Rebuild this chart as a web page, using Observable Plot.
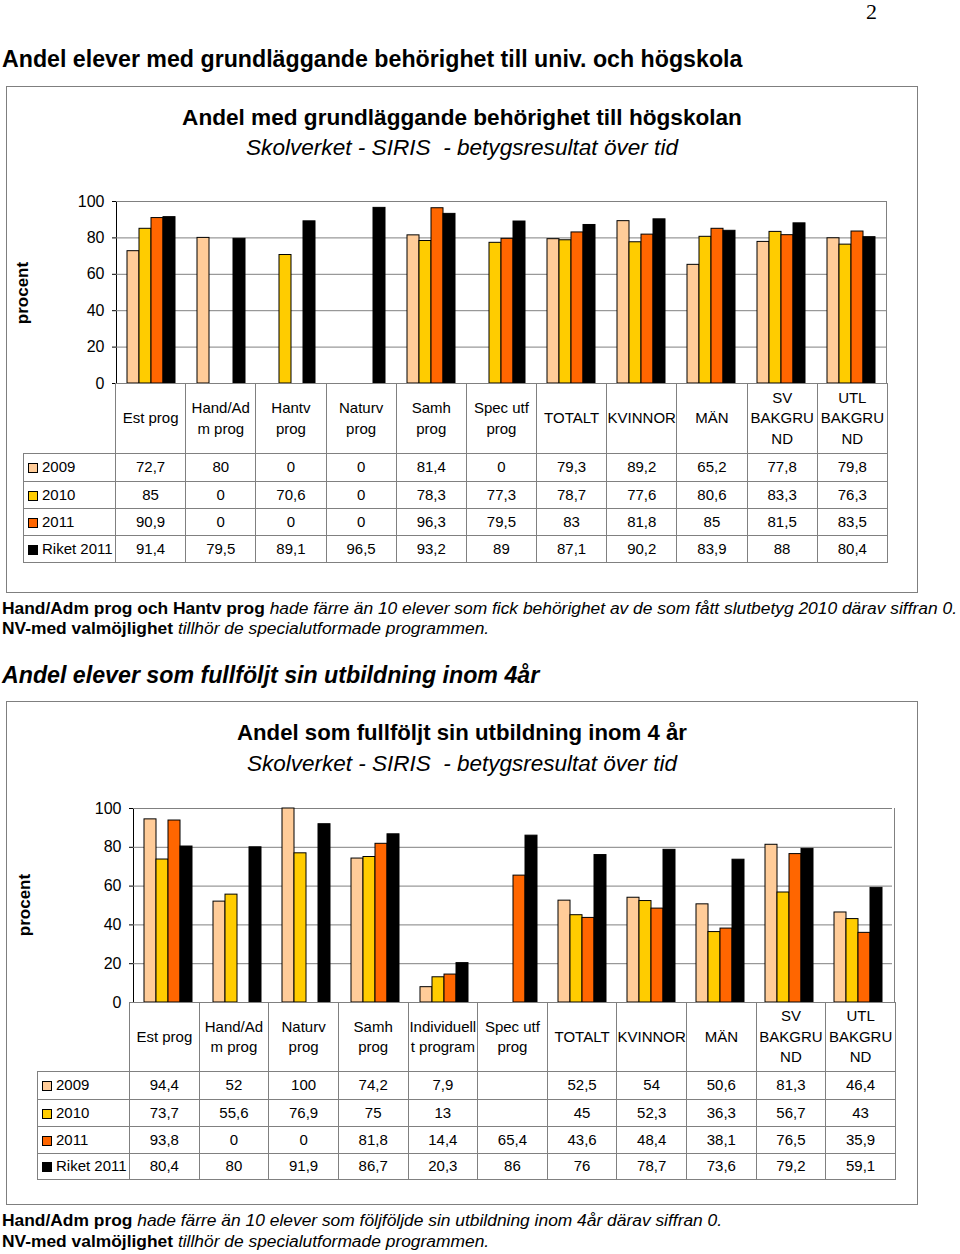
<!DOCTYPE html>
<html><head><meta charset="utf-8">
<script src="https://cdn.jsdelivr.net/npm/d3@7"></script>
<script src="https://cdn.jsdelivr.net/npm/@observablehq/plot@0.6"></script>
<style>
body{margin:0;background:#fff;font-family:"Liberation Sans",Arial,sans-serif;color:#000;}
#page{position:relative;width:960px;height:1254px;overflow:hidden;background:#fff;}
.abs{position:absolute;white-space:nowrap;line-height:1;}
.frame{position:absolute;border:1px solid #7f7f7f;box-sizing:border-box;}
.ctr{text-align:center;}
.rot{position:absolute;transform:translate(-50%,-50%) rotate(-90deg);font-weight:bold;font-size:17px;line-height:1;white-space:nowrap;}
.plotwrap{position:absolute;}
.rborder{position:absolute;border-right:1px solid #808080;}
table.dt{position:absolute;border-collapse:collapse;table-layout:fixed;font-size:15px;line-height:20.5px;}
table.dt td{border:1px solid #808080;text-align:center;vertical-align:middle;padding:0;white-space:pre;overflow:hidden;}
table.dt td.lg{text-align:left;padding-left:4px;}
table.dt td.blank{border-top:none;border-left:none;}
.sw{display:inline-block;width:8px;height:8px;border:1px solid #000;margin-right:4px;vertical-align:-1px;}
</style>
</head><body>
<div id="page"></div>
<script>
// ---------- DATA ----------
const series = ["2009", "2010", "2011", "Riket 2011"];
const seriesColors = ["#FFCC99", "#FFCC00", "#FF6600", "#000000"];
const yTicks = [0, 20, 40, 60, 80, 100];

// Chart 1: Andel med grundläggande behörighet till högskolan
const cats1 = ["Est prog", "Hand/Adm prog", "Hantv prog", "Naturv prog", "Samh prog", "Spec utf prog", "TOTALT", "KVINNOR", "MÄN", "SV BAKGRUND", "UTL BAKGRUND"];
const heads1 = ["Est prog", "Hand/Ad\nm prog", "Hantv\nprog", "Naturv\nprog", "Samh\nprog", "Spec utf\nprog", "TOTALT", "KVINNOR", "MÄN", "SV\nBAKGRU\nND", "UTL\nBAKGRU\nND"];
const c1_2009  = [72.7, 80, 0, 0, 81.4, 0, 79.3, 89.2, 65.2, 77.8, 79.8];
const c1_2010  = [85, 0, 70.6, 0, 78.3, 77.3, 78.7, 77.6, 80.6, 83.3, 76.3];
const c1_2011  = [90.9, 0, 0, 0, 96.3, 79.5, 83, 81.8, 85, 81.5, 83.5];
const c1_riket = [91.4, 79.5, 89.1, 96.5, 93.2, 89, 87.1, 90.2, 83.9, 88, 80.4];

// Chart 2: Andel som fullföljt sin utbildning inom 4 år
const cats2 = ["Est prog", "Hand/Adm prog", "Naturv prog", "Samh prog", "Individuellt program", "Spec utf prog", "TOTALT", "KVINNOR", "MÄN", "SV BAKGRUND", "UTL BAKGRUND"];
const heads2 = ["Est prog", "Hand/Ad\nm prog", "Naturv\nprog", "Samh\nprog", "Individuell\nt program", "Spec utf\nprog", "TOTALT", "KVINNOR", "MÄN", "SV\nBAKGRU\nND", "UTL\nBAKGRU\nND"];
const c2_2009  = [94.4, 52, 100, 74.2, 7.9, null, 52.5, 54, 50.6, 81.3, 46.4];
const c2_2010  = [73.7, 55.6, 76.9, 75, 13, null, 45, 52.3, 36.3, 56.7, 43];
const c2_2011  = [93.8, 0, 0, 81.8, 14.4, 65.4, 43.6, 48.4, 38.1, 76.5, 35.9];
const c2_riket = [80.4, 80, 91.9, 86.7, 20.3, 86, 76, 78.7, 73.6, 79.2, 59.1];

// ---------- HELPERS ----------
const page = document.getElementById("page");
function add(html) { page.insertAdjacentHTML("beforeend", html); }
const fmt = v => v == null ? "" : String(v).replace(".", ",");

function tidy(cats, rows) {
  const out = [];
  rows.forEach((vals, i) => cats.forEach((c, j) => {
    if (vals[j] != null) out.push({cat: c, series: series[i], value: vals[j]});
  }));
  return out;
}

function barChart(cats, rows, o) {
  const data = tidy(cats, rows);
  return Plot.plot({
    width: o.width, height: o.height,
    marginLeft: o.ml, marginRight: o.mr, marginTop: o.mt, marginBottom: o.mb,
    style: {fontFamily: "Liberation Sans, Arial, sans-serif", fontSize: "16px", color: "#000", background: "transparent", overflow: "visible"},
    fx: {domain: cats, padding: 0, axis: null},
    x: {domain: series, paddingInner: 0, paddingOuter: o.po, axis: null},
    y: {domain: [0, 100], ticks: yTicks, tickSize: 4, tickPadding: 8, label: null, line: true},
    color: {domain: series, range: seriesColors},
    marks: [
      Plot.ruleY(yTicks.filter(d => d > 0), {stroke: "#808080", strokeOpacity: 1}),
      Plot.barY(data, {fx: "cat", x: "series", y: "value", fill: "series", stroke: "#000", strokeWidth: 1}),
      Plot.ruleY([0], {stroke: "#000", strokeOpacity: 1})
    ]
  });
}

function dataTable(heads, rows, left, top, legendW, colW, headH, rowH) {
  let h = `<table class="dt" style="left:${left}px;top:${top}px;width:${legendW + colW * heads.length}px">`;
  h += `<colgroup><col style="width:${legendW}px">` + heads.map(() => `<col style="width:${colW}px">`).join("") + `</colgroup>`;
  h += `<tr style="height:${headH}px"><td class="blank"></td>` + heads.map(t => `<td>${t}</td>`).join("") + `</tr>`;
  rows.forEach((vals, i) => {
    h += `<tr style="height:${rowH[i]}px"><td class="lg"><span class="sw" style="background:${seriesColors[i]}"></span>${series[i]}</td>` +
      vals.map(v => `<td>${fmt(v)}</td>`).join("") + `</tr>`;
  });
  return h + `</table>`;
}

// ---------- PAGE TEXT ----------
add(`<div class="abs" style="left:866px;top:1px;font-family:'Liberation Serif',serif;font-size:22px">2</div>`);
add(`<div class="abs" style="left:2px;top:48px;font-size:23.2px;font-weight:bold">Andel elever med grundläggande behörighet till univ. och högskola</div>`);

// Chart 1 frame
add(`<div class="frame" style="left:6px;top:86px;width:912px;height:507px"></div>`);
add(`<div class="abs ctr" style="left:6px;width:912px;top:107px;font-size:22.6px;font-weight:bold">Andel med grundläggande behörighet till högskolan</div>`);
add(`<div class="abs ctr" style="left:6px;width:912px;top:137px;font-size:22.6px;font-style:italic">Skolverket - SIRIS&nbsp; - betygsresultat över tid</div>`);
add(`<div class="rot" style="left:22px;top:293px">procent</div>`);
add(`<div class="rborder" style="left:115px;top:201px;width:771px;height:182px"></div>`);
const p1 = barChart(cats1, [c1_2009, c1_2010, c1_2011, c1_riket], {width: 900, height: 200, ml: 115, mr: 13, mt: 11, mb: 7, po: 0.7});
const w1 = document.createElement("div"); w1.className = "plotwrap"; w1.style.left = "0px"; w1.style.top = "190px";
w1.appendChild(p1); page.appendChild(w1);
add(dataTable(heads1, [c1_2009, c1_2010, c1_2011, c1_riket], 23, 383, 92, 772 / 11, 70, [28, 27, 27, 27]));

// Notes 1
add(`<div class="abs" style="left:2px;top:600px;font-size:17.4px"><b>Hand/Adm prog och Hantv prog</b> <i>hade färre än 10 elever som fick behörighet av de som fått slutbetyg 2010 därav siffran 0.</i></div>`);
add(`<div class="abs" style="left:2px;top:620px;font-size:17.4px"><b>NV-med valmöjlighet</b> <i>tillhör de specialutformade programmen.</i></div>`);
add(`<div class="abs" style="left:2px;top:664px;font-size:23.2px;font-weight:bold;font-style:italic">Andel elever som fullföljt sin utbildning inom 4år</div>`);

// Chart 2 frame
add(`<div class="frame" style="left:6px;top:701px;width:912px;height:504px"></div>`);
add(`<div class="abs ctr" style="left:6px;width:912px;top:722px;font-size:22.2px;font-weight:bold">Andel som fullföljt sin utbildning inom 4 år</div>`);
add(`<div class="abs ctr" style="left:6px;width:912px;top:753px;font-size:22.5px;font-style:italic">Skolverket - SIRIS&nbsp; - betygsresultat över tid</div>`);
add(`<div class="rot" style="left:24px;top:905px">procent</div>`);
add(`<div class="rborder" style="left:129px;top:808px;width:765px;height:194px"></div>`);
const p2 = barChart(cats2, [c2_2009, c2_2010, c2_2011, c2_riket], {width: 910, height: 210, ml: 129, mr: 15, mt: 11, mb: 5, po: 0.68});
const w2 = document.createElement("div"); w2.className = "plotwrap"; w2.style.left = "0px"; w2.style.top = "797px";
w2.appendChild(p2); page.appendChild(w2);
add(dataTable(heads2, [c2_2009, c2_2010, c2_2011, c2_riket], 37, 1002, 92, 766 / 11, 69, [28, 27, 27, 26]));

// Notes 2
add(`<div class="abs" style="left:2px;top:1212px;font-size:17.4px"><b>Hand/Adm prog</b> <i>hade färre än 10 elever som följföljde sin utbildning inom 4år därav siffran 0.</i></div>`);
add(`<div class="abs" style="left:2px;top:1233px;font-size:17.4px"><b>NV-med valmöjlighet</b> <i>tillhör de specialutformade programmen.</i></div>`);
</script>
</body></html>
